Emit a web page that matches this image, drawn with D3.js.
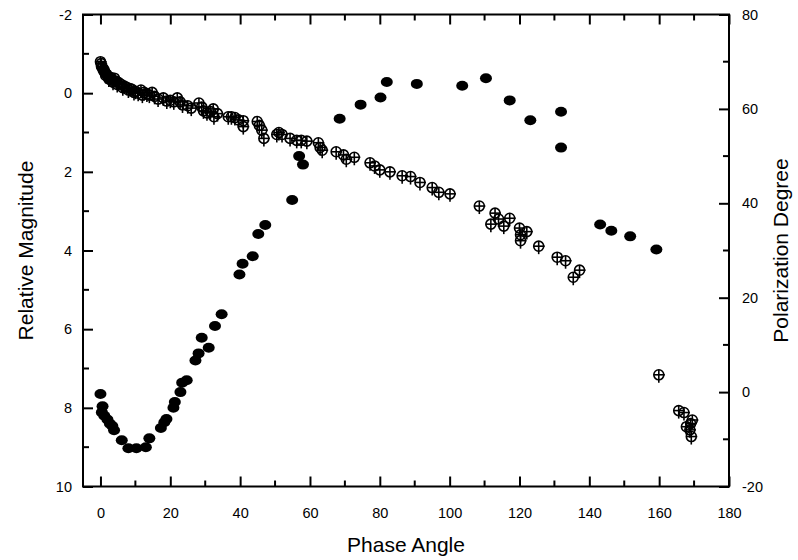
<!DOCTYPE html>
<html>
<head>
<meta charset="utf-8">
<script src="https://cdnjs.cloudflare.com/ajax/libs/d3/7.8.5/d3.min.js"></script>
<style>
  body { margin: 0; background: #fff; }
  svg { display: block; font-family: "Liberation Sans", Arial, sans-serif; }
</style>
</head>
<body>
<div id="chart"></div>
<script>
// relative magnitude (open markers, left axis)
const magPhase = [0, 0.2, 0.3, 0.6, 0.8, 1.0, 1.3, 1.5, 1.8, 2.2, 2.4, 2.6, 3.0, 3.4, 3.6, 4.0, 4.5, 4.8, 5.2, 6.0, 6.4, 6.8, 7.5, 8.0, 8.4, 9.0, 9.6, 10.0, 10.8,
    11.6, 12.0, 12.5, 13.3, 14.0, 14.8, 15.5, 16.5, 18.0, 19.0, 20.0, 21.0, 22.0, 22.8, 23.5, 25.0, 26.0, 28.2, 29.0, 29.5, 30.5,
    31.5, 32.3, 32.5, 33.5, 36.6, 37.5, 38.5, 39.5, 40.9, 40.9, 44.9, 45.5, 46.2, 46.8, 50.5, 51.1, 52.0, 54.3, 56.2, 57.5,
    59.1, 62.4, 62.9, 63.5, 67.5, 69.6, 70.4, 72.7, 77.2, 78.5, 80.0, 82.9, 86.4, 88.8, 91.5, 95.0, 96.9, 100.1, 108.5, 111.8,
    113.0, 114.0, 115.5, 117.2, 120.0, 120.3, 120.3, 122.1, 125.5, 130.8, 133.2, 135.4, 137.2, 159.9, 165.6, 167.1, 167.8, 168.8, 169.2, 169.5, 169.0];
const magValue = [-0.8, -0.75, -0.68, -0.65, -0.58, -0.6, -0.52, -0.45, -0.48, -0.42, -0.36, -0.38, -0.4, -0.33, -0.28, -0.38, -0.3, -0.22, -0.27, -0.22, -0.14, -0.18, -0.15, -0.08, -0.12, -0.1, -0.02, -0.05, 0.0,
    -0.08, 0.05, -0.02, 0.02, 0.05, -0.02, 0.08, 0.15, 0.12, 0.2, 0.18, 0.22, 0.12, 0.22, 0.3, 0.32, 0.38, 0.25, 0.35, 0.45, 0.5,
    0.47, 0.4, 0.6, 0.52, 0.6, 0.6, 0.62, 0.68, 0.7, 0.85, 0.72, 0.82, 0.94, 1.15, 1.05, 1.0, 1.05, 1.15, 1.2, 1.2,
    1.22, 1.26, 1.38, 1.45, 1.49, 1.57, 1.68, 1.63, 1.77, 1.85, 1.95, 2.0, 2.1, 2.12, 2.27, 2.4, 2.52, 2.56, 2.87, 3.33,
    3.05, 3.2, 3.38, 3.18, 3.43, 3.6, 3.75, 3.52, 3.89, 4.17, 4.26, 4.68, 4.5, 7.16, 8.07, 8.12, 8.48, 8.56, 8.73, 8.31, 8.4];

// polarization degree (filled markers, right axis)
const polPhase = [0, 0.6, 0.4, 1.1, 2.0, 2.7, 3.4, 3.9, 6.1, 8.0, 10.3, 13.0, 14.0, 17.3, 18.3, 18.9, 20.9, 21.3, 22.9, 23.4,
    24.7, 27.2, 28.1, 29.0, 31.0, 32.8, 34.7, 39.8, 40.7, 43.6, 45.2, 47.2, 54.9, 56.9, 58.0, 68.5, 74.5, 80.2, 82.0, 90.6,
    103.6, 110.4, 117.2, 123.1, 131.9, 131.9, 143.1, 146.3, 151.7, 159.2];
const polValue = [-0.4, -3.0, -4.3, -5.0, -5.8, -6.7, -7.2, -8.1, -10.2, -11.9, -11.9, -11.7, -9.8, -7.6, -6.4, -5.7, -3.3, -2.1, 0, 2.0,
    2.5, 6.7, 8.2, 11.5, 9.4, 14.0, 16.5, 24.9, 27.2, 28.8, 33.5, 35.4, 40.7, 50.0, 48.2, 57.9, 60.9, 62.4, 65.7, 65.3,
    64.9, 66.5, 61.8, 57.6, 59.4, 51.8, 35.5, 34.2, 33.0, 30.2];

const xTicks = [0, 20, 40, 60, 80, 100, 120, 140, 160, 180];
const xMinor = [10, 30, 50, 70, 90, 110, 130, 150, 170];
const yLeftTicks = [-2, 0, 2, 4, 6, 8, 10];
const yLeftMinor = [-1, 1, 3, 5, 7, 9];
const yRightTicks = [-20, 0, 20, 40, 60, 80];
const yRightMinor = [-10, 10, 30, 50, 70];

const width = 798, height = 560;
const margin = { top: 14.5, right: 69, bottom: 73.5, left: 83 };
const w = width - margin.left - margin.right;
const h = height - margin.top - margin.bottom;

const svg = d3.select('#chart').append('svg')
    .attr('width', width)
    .attr('height', height);

const g = svg.append('g').attr('transform', `translate(${margin.left},${margin.top})`);

const x = d3.scaleLinear().domain([-5, 180]).range([0, w]);
const yL = d3.scaleLinear().domain([-2, 10]).range([0, h]);
const yR = d3.scaleLinear().domain([-20, 80]).range([h, 0]);

// frame
g.append('rect')
    .attr('width', w).attr('height', h)
    .attr('fill', 'none').attr('stroke', '#000').attr('stroke-width', 2);

const fmt = d => String(d);

function ticksOn(axisGen, major, pad, f) {
    return sel => {
        sel.call(axisGen.tickValues(major).tickSize(-10).tickPadding(pad).tickFormat(f));
        sel.select('.domain').remove();
        sel.selectAll('.tick line').attr('stroke-width', 2);
        sel.selectAll('text').style('font-size', '14.5px').attr('fill', '#000');
    };
}

g.append('g').attr('transform', `translate(0,${h})`)
    .call(ticksOn(d3.axisBottom(x), xTicks, 21, fmt));
g.append('g')
    .call(ticksOn(d3.axisTop(x), xTicks, 8, () => ''));
g.append('g')
    .call(ticksOn(d3.axisLeft(yL), yLeftTicks, 11, fmt));
g.append('g').attr('transform', `translate(${w},0)`)
    .call(ticksOn(d3.axisRight(yR), yRightTicks, 13, fmt));

// minor ticks
const minor = g.append('g').attr('stroke', '#000').attr('stroke-width', 2);
xMinor.forEach(v => {
    minor.append('line').attr('x1', x(v)).attr('x2', x(v)).attr('y1', h).attr('y2', h - 6);
    minor.append('line').attr('x1', x(v)).attr('x2', x(v)).attr('y1', 0).attr('y2', 6);
});
yLeftMinor.forEach(v => {
    minor.append('line').attr('x1', 0).attr('x2', 6).attr('y1', yL(v)).attr('y2', yL(v));
});
yRightMinor.forEach(v => {
    minor.append('line').attr('x1', w).attr('x2', w - 6).attr('y1', yR(v)).attr('y2', yR(v));
});

// polarization: filled ellipses
g.append('g').selectAll('ellipse')
    .data(polPhase.map((p, i) => ({ p, v: polValue[i] })))
    .enter().append('ellipse')
    .attr('cx', d => x(d.p))
    .attr('cy', d => yR(d.v))
    .attr('rx', 6)
    .attr('ry', 5)
    .attr('fill', '#000');

// magnitude: open circles with crosshair
const mk = g.append('g').attr('fill', 'none').attr('stroke', '#000').attr('stroke-width', 1.6)
    .selectAll('g')
    .data(magPhase.map((p, i) => ({ p, v: magValue[i] })))
    .enter().append('g')
    .attr('transform', d => `translate(${x(d.p)},${yL(d.v)})`);
mk.append('circle').attr('r', 5);
mk.append('line').attr('x1', 0).attr('x2', 0).attr('y1', -5).attr('y2', 8);
mk.append('line').attr('x1', -5).attr('x2', 6).attr('y1', 0).attr('y2', 0);

// axis titles
svg.append('text')
    .attr('x', margin.left + w / 2).attr('y', 552)
    .attr('text-anchor', 'middle')
    .style('font-size', '21px')
    .text('Phase Angle');

svg.append('text')
    .attr('transform', `translate(33,${margin.top + h / 2}) rotate(-90)`)
    .attr('text-anchor', 'middle')
    .style('font-size', '21px')
    .text('Relative Magnitude');

svg.append('text')
    .attr('transform', `translate(788,${margin.top + h / 2}) rotate(-90)`)
    .attr('text-anchor', 'middle')
    .style('font-size', '21px')
    .text('Polarization Degree');
</script>
</body>
</html>
